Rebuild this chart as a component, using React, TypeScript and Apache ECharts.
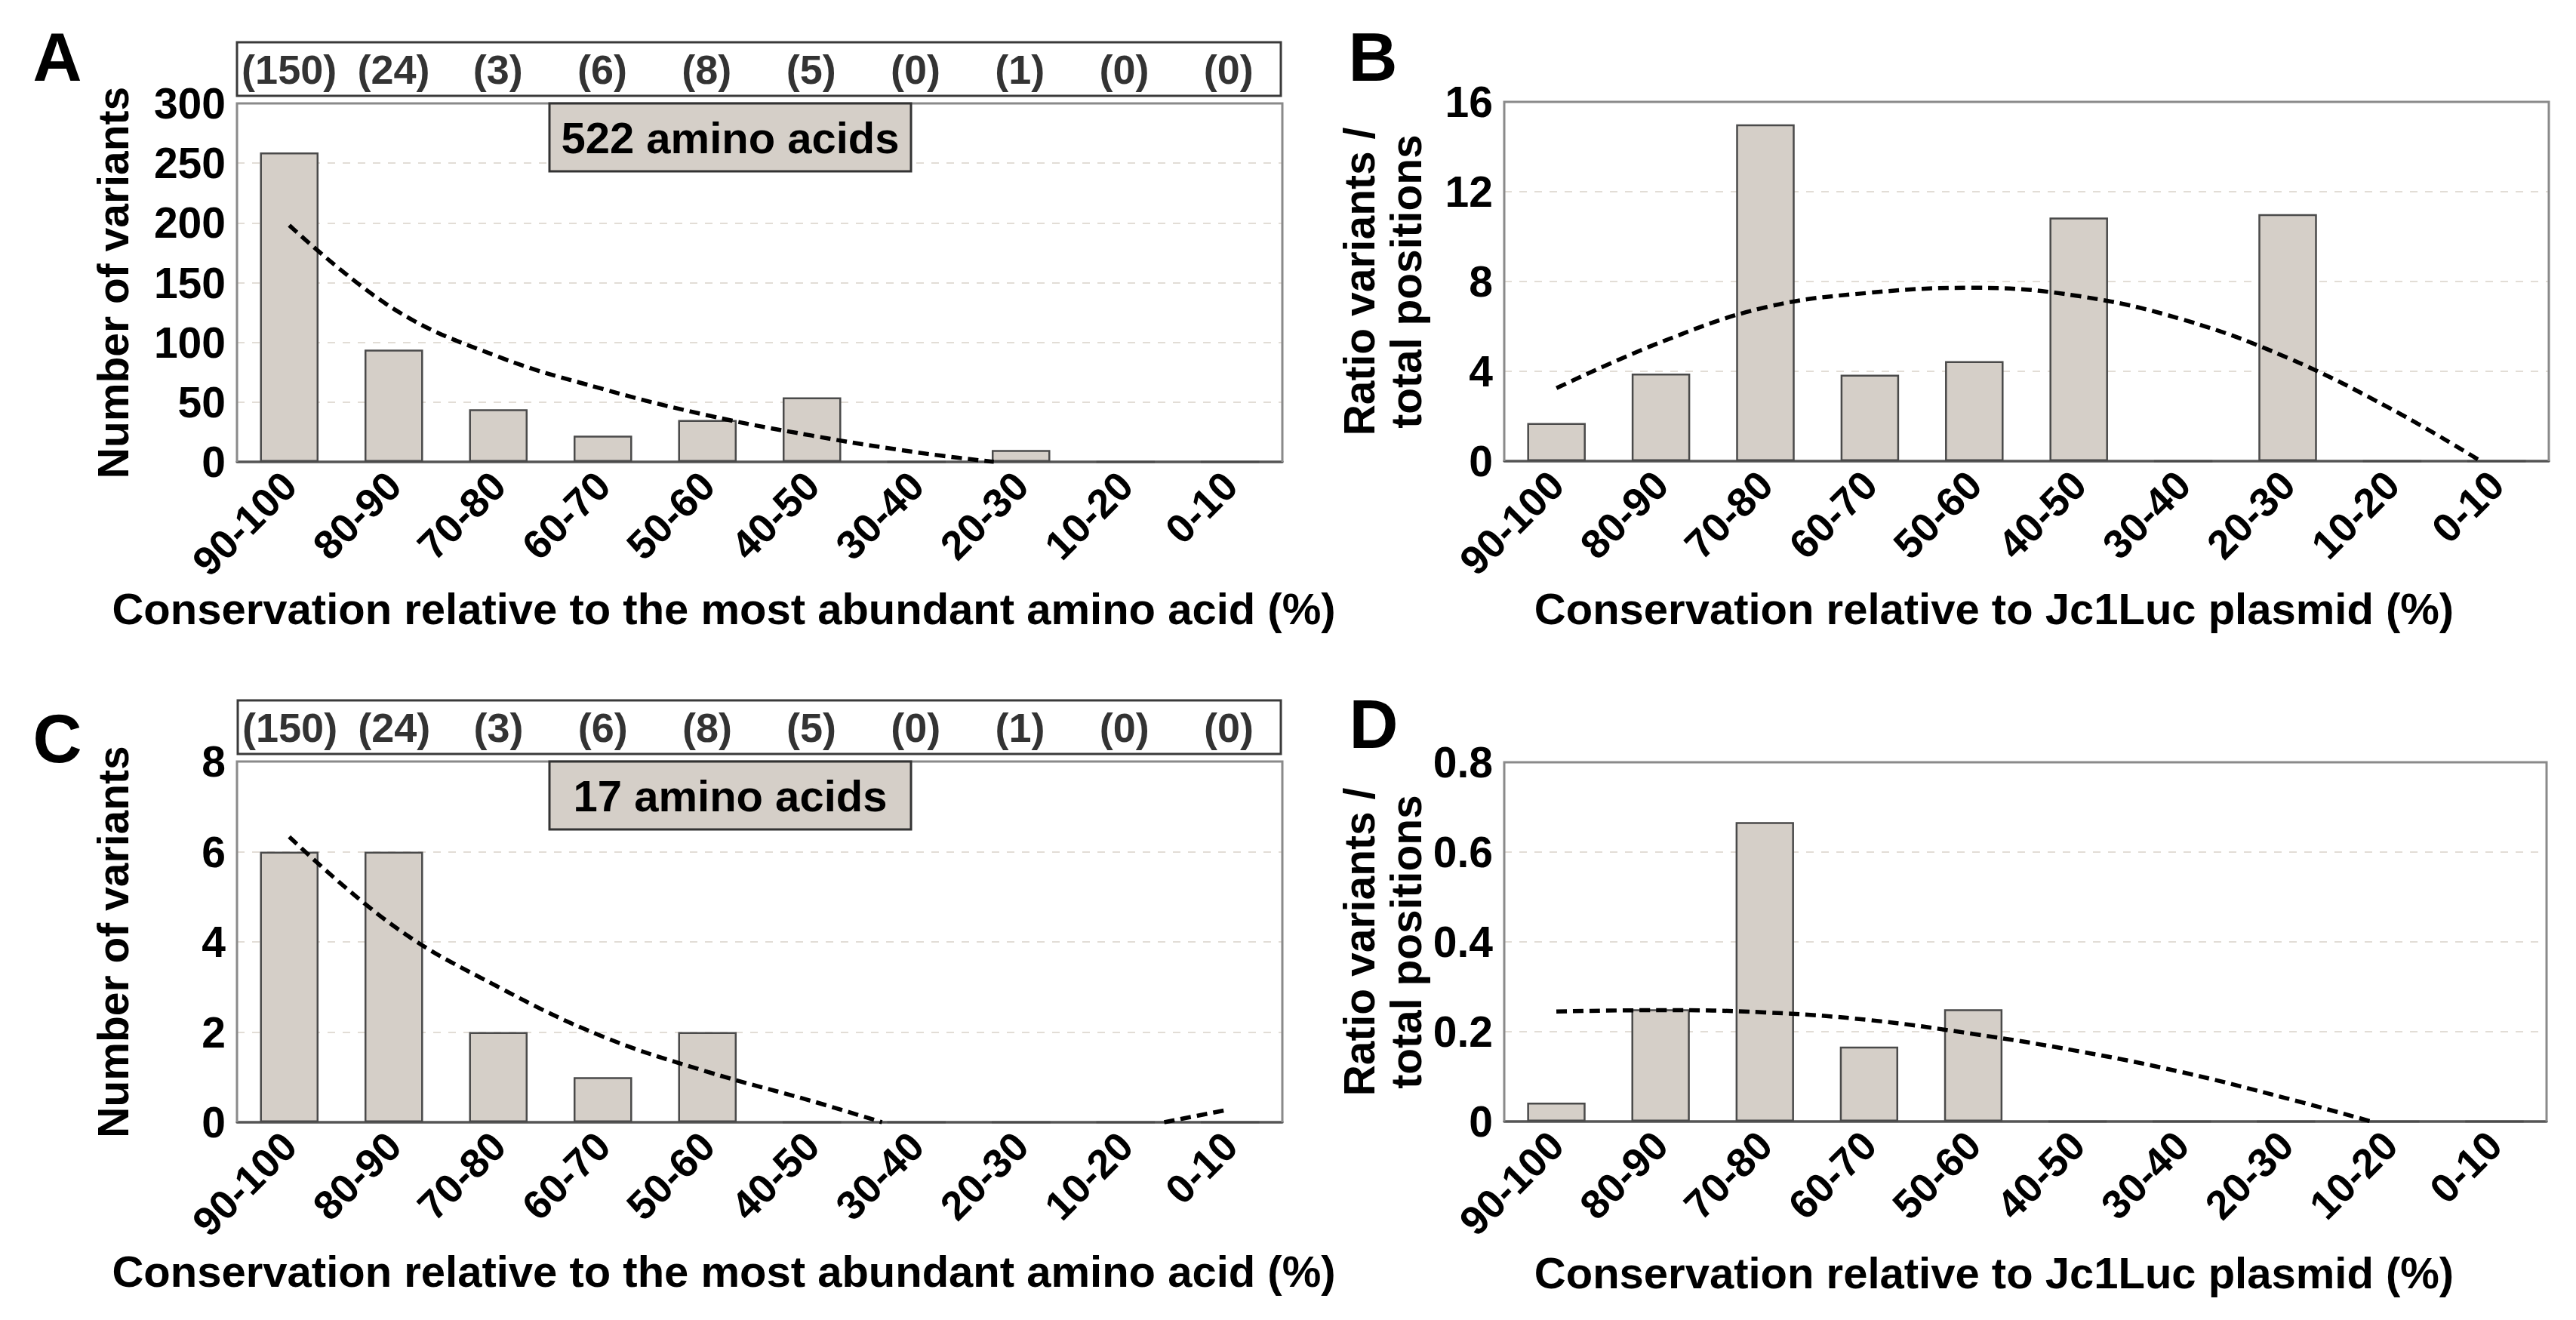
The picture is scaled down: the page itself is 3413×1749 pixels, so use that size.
import React, { useEffect, useRef } from "react";
import * as echarts from "echarts";

// ---------- data ----------
const categories = ["90-100", "80-90", "70-80", "60-70", "50-60", "40-50", "30-40", "20-30", "10-20", "0-10"];
const countLabels = ["(150)", "(24)", "(3)", "(6)", "(8)", "(5)", "(0)", "(1)", "(0)", "(0)"];

const variantsA = [259, 94, 44, 22, 35, 54, 0, 10, 0, 0];
const ratioB = [1.7, 3.9, 15.0, 3.85, 4.45, 10.85, 0, 11.0, 0, 0];
const variantsC = [6, 6, 2, 1, 2, 0, 0, 0, 0, 0];
const ratioD = [0.042, 0.25, 0.667, 0.167, 0.25, 0, 0, 0, 0, 0];

// trend lines, [category position, value]
const trendA = [[0, 198], [1, 128], [2, 88], [3, 61], [4, 39], [5, 22], [6, 8], [6.74, 0]];
const trendB = [[0, 3.25], [1, 5.3], [2, 6.85], [3, 7.5], [4, 7.72], [5, 7.35], [6, 6.3], [7, 4.6], [8, 2.3], [8.85, 0]];
const trendC1 = [[0, 6.33], [1, 4.35], [2, 3.0], [3, 1.9], [4, 1.12], [5, 0.47], [5.67, 0]];
const trendC2 = [[8.37, 0], [8.94, 0.26]];
const trendD = [[0, 0.245], [1, 0.248], [2, 0.243], [3, 0.226], [4, 0.195], [5, 0.157], [6, 0.11], [7, 0.052], [7.82, 0]];

// axis ticks
const axisA = { min: 0, max: 300, interval: 50 };
const axisB = { min: 0, max: 16, interval: 4 };
const axisC = { min: 0, max: 8, interval: 2 };
const axisD = { min: 0, max: 0.8, interval: 0.2 };

const titleLeft = "Conservation relative to the most abundant amino acid (%)";
const titleRight = "Conservation relative to Jc1Luc plasmid (%)";
const yTitleLeft = "Number of variants";
const yTitleRight = "Ratio variants /\ntotal positions";
const boxA = "522 amino acids";
const boxC = "17 amino acids";

const FONT = '"Liberation Sans", Arial, Helvetica, sans-serif';

export default function App() {
  const ref = useRef<HTMLDivElement>(null);

  useEffect(() => {
    if (!ref.current) return;
    const chart = echarts.init(ref.current, undefined, { renderer: "svg" });

    const plotGrids = [
      { left: 314, top: 137, width: 1385, height: 475 },
      { left: 1993, top: 135, width: 1384, height: 476 },
      { left: 314, top: 1009, width: 1385, height: 478 },
      { left: 1993, top: 1010, width: 1381, height: 476 },
    ];
    const countGrids = [
      { left: 314, top: 56, width: 1383, height: 71 },
      { left: 315, top: 928, width: 1382, height: 71 },
    ];

    const grid: any[] = [
      ...plotGrids.map((g) => ({ ...g, show: true, borderWidth: 0, backgroundColor: "#fff", containLabel: false })),
      ...countGrids.map((g) => ({ ...g, show: true, borderColor: "#3a3a3a", borderWidth: 3, backgroundColor: "#fff", containLabel: false })),
    ];

    const xAxis: any[] = [];
    plotGrids.forEach((_, i) => {
      xAxis.push({
        type: "category",
        gridIndex: i,
        data: categories,
        axisTick: { show: false },
        axisLine: { show: true, lineStyle: { color: "#555", width: 3.5 } },
        axisLabel: {
          interval: 0,
          rotate: 45,
          margin: 22,
          align: "right",
          verticalAlign: "middle",
          fontSize: 54,
          fontWeight: "bold",
          fontFamily: FONT,
          color: "#000",
        },
      });
      xAxis.push({ type: "value", gridIndex: i, min: -0.5, max: 9.5, show: false });
    });
    countGrids.forEach((_, k) => {
      xAxis.push({
        type: "category",
        gridIndex: 4 + k,
        data: categories,
        show: false,
      });
    });

    const yCfg = [axisA, axisB, axisC, axisD];
    const yNames = [yTitleLeft, yTitleRight, yTitleLeft, yTitleRight];
    const yAxis: any[] = yCfg.map((c, i) => ({
      type: "value",
      gridIndex: i,
      min: c.min,
      max: c.max,
      interval: c.interval,
      axisLine: { show: false },
      axisTick: { show: false },
      axisLabel: {
        margin: 15,
        fontSize: 57,
        fontWeight: "bold",
        fontFamily: FONT,
        color: "#000",
      },
      splitLine: { show: true, lineStyle: { color: "#e2ddd6", width: 2, type: [10, 10] } },
      name: yNames[i],
      nameLocation: "middle",
      nameRotate: 90,
      nameGap: i % 2 === 0 ? 133 : 99,
      nameTextStyle: {
        fontSize: 57,
        fontWeight: "bold",
        fontFamily: FONT,
        color: "#000",
        lineHeight: 62,
      },
    }));
    countGrids.forEach((_, k) => {
      yAxis.push({ type: "value", gridIndex: 4 + k, min: 0, max: 1, show: false });
    });

    const barData = [variantsA, ratioB, variantsC, ratioD];
    const series: any[] = [];
    barData.forEach((d, i) => {
      series.push({
        type: "bar",
        xAxisIndex: 2 * i,
        yAxisIndex: i,
        data: d,
        barWidth: "56%",
        itemStyle: { color: "#d5cfc8", borderColor: "#4a4a4a", borderWidth: 2.5 },
        z: 2,
      });
    });
    const trendSets: [number, any][] = [
      [0, trendA],
      [1, trendB],
      [2, trendC1],
      [2, trendC2],
      [3, trendD],
    ];
    trendSets.forEach(([i, d]) => {
      series.push({
        type: "line",
        xAxisIndex: 2 * i + 1,
        yAxisIndex: i,
        data: d,
        smooth: 0.4,
        showSymbol: false,
        symbol: "none",
        lineStyle: { color: "#000", width: 5.5, type: [14, 8] },
        z: 5,
      });
    });
    countGrids.forEach((_, k) => {
      series.push({
        type: "scatter",
        xAxisIndex: 8 + k,
        yAxisIndex: 4 + k,
        data: countLabels.map((_, j) => [j, 0.5]),
        symbolSize: 1,
        itemStyle: { color: "transparent" },
        label: {
          show: true,
          position: "inside",
          formatter: (p: any) => countLabels[p.dataIndex],
          fontSize: 54,
          fontWeight: "bold",
          fontFamily: FONT,
          color: "#000",
        },
        silent: true,
      });
    });

    const txt = (text: string, x: number, y: number, size: number) => ({
      type: "text",
      x,
      y,
      style: {
        text,
        font: `bold ${size}px ${FONT}`,
        fill: "#000",
        textAlign: "center",
        textVerticalAlign: "middle",
        align: "center",
        verticalAlign: "middle",
      },
      z: 10,
    });
    const box = (text: string, x: number, y: number, w: number, h: number) => ({
      type: "group",
      z: 10,
      children: [
        {
          type: "rect",
          shape: { x, y, width: w, height: h },
          style: { fill: "#d5cfc8", stroke: "#333", lineWidth: 3 },
          z: 10,
        },
        txt(text, x + w / 2, y + h / 2, 58),
      ],
    });
    const frame = (g: { left: number; top: number; width: number; height: number }) => ({
      type: "polyline",
      shape: {
        points: [
          [g.left, g.top + g.height],
          [g.left, g.top],
          [g.left + g.width, g.top],
          [g.left + g.width, g.top + g.height],
        ],
      },
      style: { stroke: "#8a8a8a", lineWidth: 3, fill: "none" },
      z: 3,
      silent: true,
    });

    const graphic: any[] = [
      ...plotGrids.map(frame),
      txt("A", 76, 76, 90),
      txt("B", 1819, 76, 90),
      txt("C", 76, 979, 90),
      txt("D", 1820, 960, 90),
      txt(titleLeft, 959, 806, 58),
      txt(titleRight, 2642, 806, 58),
      txt(titleLeft, 959, 1684, 58),
      txt(titleRight, 2642, 1686, 58),
      box(boxA, 728, 137, 479, 90),
      box(boxC, 728, 1009, 479, 90),
    ];

    chart.setOption({
      animation: false,
      backgroundColor: "#fff",
      textStyle: { fontFamily: FONT },
      grid,
      xAxis,
      yAxis,
      series,
      graphic,
    });

    return () => chart.dispose();
  }, []);

  return (
    <div
      ref={ref}
      style={{ position: "fixed", left: 0, top: 0, width: 3413, height: 1749, background: "#fff" }}
    />
  );
}
